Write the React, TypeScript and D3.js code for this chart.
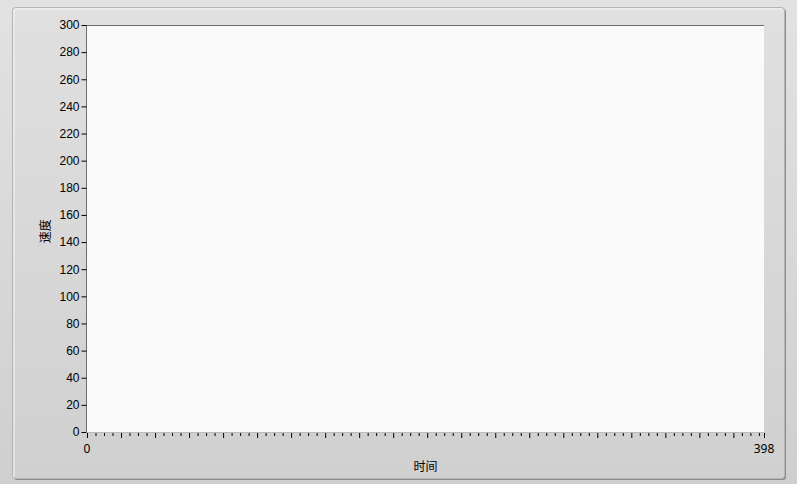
import React, { useEffect, useRef } from 'react';
import * as d3 from 'd3';

const xDomain = [0, 398];
const yDomain = [0, 300];
const yTicks = [0, 20, 40, 60, 80, 100, 120, 140, 160, 180, 200, 220, 240, 260, 280, 300];
const xLabelTicks = [0, 398];
const xMinorStep = 5;
const xMajorStep = 20;
const xTitle = '时间';
const yTitle = '速度';

const W = 797;
const H = 484;

const App = () => {
  const divRef = useRef<HTMLDivElement>(null);

  useEffect(() => {
    drawChart(divRef);
  }, [divRef]);

  return <div ref={divRef} style={{ position: 'fixed', left: 0, top: 0 }}></div>;
};

function drawChart(divRef: React.RefObject<HTMLDivElement>) {
  const margin = { top: 25, right: 33, bottom: 52, left: 87 },
    width = W - margin.left - margin.right,
    height = H - margin.top - margin.bottom;

  d3.select(divRef.current).select('svg').remove();

  const root = d3
    .select(divRef.current)
    .append('svg')
    .attr('width', W)
    .attr('height', H)
    .style('display', 'block')
    .style('font-family', '"Noto Sans", "Noto Sans CJK SC", sans-serif');

  const defs = root.append('defs');
  const bg = defs.append('linearGradient').attr('id', 'bg').attr('x1', 0).attr('y1', 0).attr('x2', 0).attr('y2', 1);
  bg.append('stop').attr('offset', '0%').attr('stop-color', '#e2e2e2');
  bg.append('stop').attr('offset', '100%').attr('stop-color', '#cfcfcf');
  const panel = defs.append('linearGradient').attr('id', 'panel').attr('x1', 0).attr('y1', 0).attr('x2', 0).attr('y2', 1);
  panel.append('stop').attr('offset', '0%').attr('stop-color', '#e0e0e0');
  panel.append('stop').attr('offset', '100%').attr('stop-color', '#d0d0d0');

  // page background
  root.append('rect').attr('width', W).attr('height', H).attr('fill', 'url(#bg)');

  // outer frame with shadow
  root
    .append('rect')
    .attr('x', 14)
    .attr('y', 9)
    .attr('width', 772)
    .attr('height', 471)
    .attr('rx', 3)
    .attr('fill', '#8c8c8c');
  root
    .append('rect')
    .attr('x', 12.5)
    .attr('y', 7.5)
    .attr('width', 772)
    .attr('height', 471)
    .attr('rx', 3)
    .attr('fill', 'url(#panel)')
    .attr('stroke', '#b4b4b4')
    .attr('stroke-width', 1);
  root
    .append('path')
    .attr('d', 'M14,477 L14,11 Q14,9 16,9 L782,9')
    .attr('fill', 'none')
    .attr('stroke', '#f4f4f4')
    .attr('stroke-width', 1);

  const svg = root.append('g').attr('transform', 'translate(' + margin.left + ',' + margin.top + ')');

  const x = d3.scaleLinear().domain(xDomain).range([0, width]);
  const y = d3.scaleLinear().domain(yDomain).range([height, 0]);

  // plot area
  svg.append('rect').attr('x', 0).attr('y', 0).attr('width', width).attr('height', height).attr('fill', '#fafafa');
  svg.append('line').attr('x1', -0.5).attr('x2', width).attr('y1', 0.5).attr('y2', 0.5).attr('stroke', '#6e6e6e');
  svg.append('line').attr('x1', -0.5).attr('x2', -0.5).attr('y1', 0).attr('y2', height).attr('stroke', '#6e6e6e');
  svg.append('line').attr('x1', 0).attr('x2', width).attr('y1', height + 0.5).attr('y2', height + 0.5).attr('stroke', '#bcbcbc');

  // Y axis
  const yAxis = svg
    .append('g')
    .attr('transform', 'translate(-0.5,0)')
    .call(d3.axisLeft(y).tickValues(yTicks).tickSize(5).tickPadding(2).tickFormat(d3.format('d')));
  yAxis.select('.domain').remove();
  yAxis.selectAll('line').attr('stroke', '#000');
  yAxis.selectAll('text').style('font-size', '12px').attr('fill', '#000');

  // X axis minor / major ticks
  const minor = d3.range(xDomain[0], xDomain[1], xMinorStep).filter((v) => v % xMajorStep !== 0);
  const major = d3.range(xDomain[0], xDomain[1], xMajorStep);
  const xMinorAxis = svg
    .append('g')
    .attr('transform', 'translate(0,' + (height + 1) + ')')
    .call(d3.axisBottom(x).tickValues(minor).tickSize(3).tickFormat(() => ''));
  xMinorAxis.select('.domain').remove();
  xMinorAxis.selectAll('line').attr('stroke', '#000');
  const xMajorAxis = svg
    .append('g')
    .attr('transform', 'translate(0,' + (height + 1) + ')')
    .call(d3.axisBottom(x).tickValues([...major, xDomain[1]]).tickSize(5).tickFormat(() => ''));
  xMajorAxis.select('.domain').remove();
  xMajorAxis.selectAll('line').attr('stroke', '#000');

  // X labels
  svg
    .append('g')
    .selectAll('text')
    .data(xLabelTicks)
    .join('text')
    .attr('x', (d) => x(d))
    .attr('y', height + 21)
    .attr('text-anchor', 'middle')
    .style('font-size', '12px')
    .attr('fill', '#000')
    .text((d) => d);

  // titles
  svg
    .append('text')
    .attr('x', width / 2)
    .attr('y', height + 39)
    .attr('text-anchor', 'middle')
    .style('font-size', '12px')
    .attr('fill', '#000')
    .text(xTitle);
  svg
    .append('text')
    .attr('transform', 'translate(' + -37 + ',' + y(148) + ') rotate(-90)')
    .attr('text-anchor', 'middle')
    .style('font-size', '12px')
    .attr('fill', '#000')
    .text(yTitle);
}

export default App;
